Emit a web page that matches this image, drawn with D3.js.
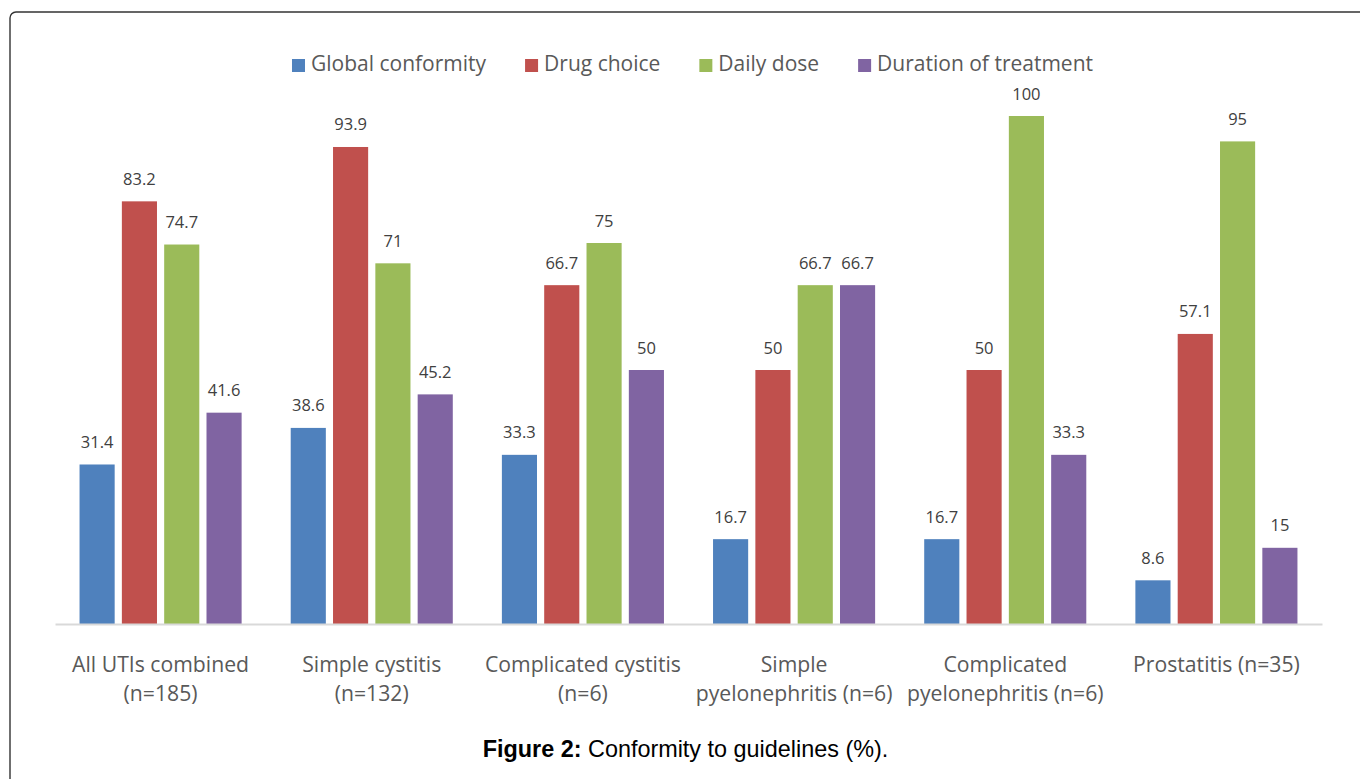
<!DOCTYPE html>
<html>
<head>
<meta charset="utf-8">
<script src="https://cdn.jsdelivr.net/npm/d3@7"></script>
<style>
  html, body { margin: 0; padding: 0; background: #ffffff; }
  svg { display: block; }
</style>
</head>
<body>
<svg id="chart" width="1360" height="779"></svg>
<script>
// Urinary tract infection categories and conformity rates (%)
const categories = [
  ["All UTIs combined", "(n=185)"],
  ["Simple cystitis", "(n=132)"],
  ["Complicated cystitis", "(n=6)"],
  ["Simple", "pyelonephritis (n=6)"],
  ["Complicated", "pyelonephritis (n=6)"],
  ["Prostatitis (n=35)"]
];
const seriesNames = ["Global conformity", "Drug choice", "Daily dose", "Duration of treatment"];
const globalConformity = [31.4, 38.6, 33.3, 16.7, 16.7, 8.6];
const drugChoice       = [83.2, 93.9, 66.7, 50, 50, 57.1];
const dailyDose        = [74.7, 71, 75, 66.7, 100, 95];
const durationTreat    = [41.6, 45.2, 50, 66.7, 33.3, 15];
const seriesValues = [globalConformity, drugChoice, dailyDose, durationTreat];
const colors = ["#4F81BD", "#C0504D", "#9BBB59", "#8064A2"];

const svg = d3.select("#chart");
const FONT = "'Open Sans', 'Noto Sans', sans-serif";

// frame around the figure
svg.append("rect")
  .attr("x", 10).attr("y", 12)
  .attr("width", 1400).attr("height", 820)
  .attr("rx", 6).attr("ry", 6)
  .attr("fill", "none")
  .attr("stroke", "#333333")
  .attr("stroke-width", 1.4);

const plot = { left: 55, right: 1322, top: 116, bottom: 624 };

const x0 = d3.scaleBand()
  .domain(d3.range(categories.length))
  .range([plot.left, plot.right])
  .padding(0);

const x1 = d3.scaleBand()
  .domain(d3.range(seriesNames.length))
  .range([0, x0.bandwidth()])
  .paddingInner(0.17)
  .paddingOuter(0.58);

const y = d3.scaleLinear().domain([0, 100]).range([plot.bottom, plot.top]);

// bars
const groups = svg.append("g").selectAll("g")
  .data(categories.map((c, i) => i))
  .join("g")
  .attr("transform", i => `translate(${x0(i)},0)`);

groups.selectAll("rect")
  .data(i => seriesValues.map((vals, s) => ({ s, v: vals[i] })))
  .join("rect")
  .attr("x", d => x1(d.s))
  .attr("y", d => y(d.v))
  .attr("width", x1.bandwidth())
  .attr("height", d => y(0) - y(d.v))
  .attr("fill", d => colors[d.s]);

// value labels
groups.selectAll("text.val")
  .data(i => seriesValues.map((vals, s) => ({ s, v: vals[i] })))
  .join("text")
  .attr("class", "val")
  .attr("x", d => x1(d.s) + x1.bandwidth() / 2)
  .attr("y", d => y(d.v) - 16.5)
  .attr("text-anchor", "middle")
  .attr("font-family", FONT)
  .attr("font-size", 16.5)
  .attr("fill", "#404040")
  .text(d => String(d.v));

// baseline axis
const xAxis = d3.axisBottom(x0).tickSize(0).tickFormat("");
const axisG = svg.append("g")
  .attr("transform", `translate(0,${plot.bottom})`)
  .call(xAxis);
axisG.select(".domain")
  .attr("stroke", "#d9d9d9")
  .attr("stroke-width", 2);

// category labels
const catG = svg.append("g");
categories.forEach((lines, i) => {
  const t = catG.append("text")
    .attr("text-anchor", "middle")
    .attr("font-family", FONT)
    .attr("font-size", 21.2)
    .attr("fill", "#595959");
  lines.forEach((ln, k) => {
    t.append("tspan")
      .attr("x", x0(i) + x0.bandwidth() / 2)
      .attr("y", 672 + k * 28.5)
      .text(ln);
  });
});

// legend
const legend = svg.append("g");
const sw = 13, textGap = 6, itemGap = 39;
const items = seriesNames.map((name, s) => {
  const g = legend.append("g");
  g.append("rect")
    .attr("x", 0).attr("y", 59)
    .attr("width", sw).attr("height", sw)
    .attr("fill", colors[s]);
  const t = g.append("text")
    .attr("x", sw + textGap).attr("y", 71)
    .attr("font-family", FONT)
    .attr("font-size", 21)
    .attr("fill", "#595959")
    .text(name);
  return { g, w: sw + textGap + t.node().getComputedTextLength() };
});
const totalW = d3.sum(items, d => d.w) + itemGap * (items.length - 1);
let cx = 692.5 - totalW / 2;
items.forEach(it => {
  it.g.attr("transform", `translate(${cx},0)`);
  cx += it.w + itemGap;
});

// caption
const cap = svg.append("text")
  .attr("x", 685.5).attr("y", 756.5)
  .attr("text-anchor", "middle")
  .attr("font-family", "'Liberation Sans', Arial, sans-serif")
  .attr("font-size", 23.4)
  .attr("fill", "#000000");
cap.append("tspan").attr("font-weight", "bold").text("Figure 2:");
cap.append("tspan").text(" Conformity to guidelines (%).");
</script>
</body>
</html>
